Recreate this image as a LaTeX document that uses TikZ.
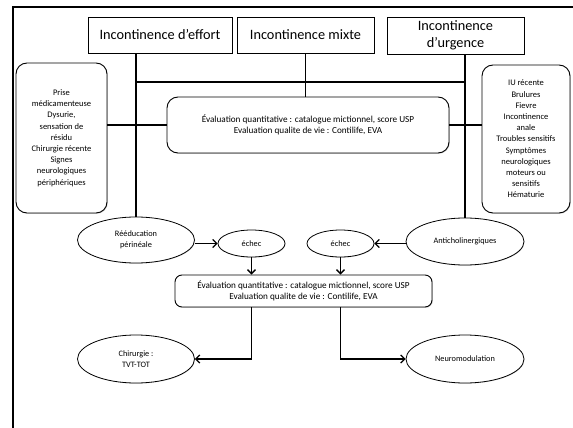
\documentclass[tikz,border=0pt]{standalone}
\usepackage{fontspec}
\setmainfont{Carlito}
\usetikzlibrary{arrows.meta,shapes.geometric,shadows}
\begin{document}
\begin{tikzpicture}[x=1pt,y=-1pt,
  titlebox/.style={draw,line width=0.8pt,font=\fontsize{14.3}{16.5}\selectfont,align=center,inner sep=0pt},
  infobox/.style={draw,line width=0.9pt,rounded corners=11pt,font=\fontsize{8.5}{11.2}\selectfont,align=center,inner sep=0pt,fill=white,
    drop shadow={shadow xshift=0.8pt,shadow yshift=-0.8pt,opacity=0.35}},
  evalbox/.style={infobox,font=\fontsize{9.2}{11}\selectfont},
  oval/.style={draw,ellipse,line width=0.8pt,font=\fontsize{8.3}{11.5}\selectfont,align=center,inner sep=0pt,fill=white,
    drop shadow={shadow xshift=0.6pt,shadow yshift=-0.6pt,opacity=0.3}},
  link/.style={line width=1.3pt},
  arr/.style={line width=1.3pt,-{Straight Barb[length=4pt,width=8pt,line width=1.3pt]}}]
\useasboundingbox (0,0) rectangle (573,428);
% page frame
\draw[line width=2.2pt] (573,7) -- (13,7) -- (13,428);

% the three kinds of incontinence
\node[titlebox,minimum width=144pt,minimum height=36pt] (effort) at (160,35) {Incontinence d’effort};
\node[titlebox,minimum width=137pt,minimum height=36pt] (mixte) at (305.5,35) {Incontinence mixte};
\node[titlebox,minimum width=137pt,minimum height=37pt] (urg) at (455.5,35.5) {Incontinence\\d’urgence};

% warning signs and first evaluation
\node[infobox,minimum width=91pt,minimum height=150pt] (lbox) at (61.5,138)
  {Prise\\médicamenteuse\\Dysurie,\\sensation de\\résidu\\Chirurgie récente\\Signes\\neurologiques\\périphériques};
\node[infobox,minimum width=88pt,minimum height=148pt] (rbox) at (526,139)
  {IU récente\\Brulures\\Fievre\\Incontinence\\anale\\Troubles sensitifs\\Symptômes\\neurologiques\\moteurs ou\\sensitifs\\Hématurie};
\node[evalbox,minimum width=282pt,minimum height=56pt] (mid) at (308,125)
  {Évaluation quantitative : catalogue mictionnel, score USP\\Evaluation qualite de vie : Contilife, EVA};

% treatments
\node[oval,minimum width=117pt,minimum height=46pt] (reed) at (136,240) {Rééducation\\périnéale};
\node[oval,minimum width=67pt,minimum height=27pt] (echecL) at (251.5,243.5) {échec};
\node[oval,minimum width=67pt,minimum height=27pt] (echecR) at (340.5,243.5) {échec};
\node[oval,minimum width=118pt,minimum height=47pt] (anti) at (465,241.5) {Anticholinergiques};

% second evaluation
\node[evalbox,minimum width=257pt,minimum height=32pt,rounded corners=7pt] (bot) at (303.5,291)
  {Évaluation quantitative : catalogue mictionnel, score USP\\Evaluation qualite de vie : Contilife, EVA};

% second-line treatments
\node[oval,minimum width=117pt,minimum height=48pt] (chir) at (136,359) {Chirurgie :\\TVT-TOT};
\node[oval,minimum width=118pt,minimum height=48pt] (neuro) at (465,359) {Neuromodulation};

% bus lines joining the three kinds
\coordinate (busL) at (reed.north |- 0,82);
\coordinate (busR) at (anti.north |- 0,82);
\draw[link] (reed.north |- effort.south) -- (reed.north);
\draw[link] (anti.north |- urg.south) -- (anti.north);
\draw[link] (busL) -- (busR);
\draw[link] (mixte.south) -- (mixte.south |- mid.north);
\draw[link] (lbox.east |- mid.west) -- (mid.west);
\draw[link] (mid.east) -- (rbox.west |- mid.east);

% arrows through the treatments
\draw[arr] (reed.east |- echecL.west) -- (echecL.west);
\draw[arr] (anti.west |- echecR.east) -- (echecR.east);
\draw[arr] (echecL.south) -- (echecL.south |- bot.north);
\draw[arr] (echecR.south) -- (echecR.south |- bot.north);
\draw[arr] (echecL.south |- bot.south) -- (echecL.south |- chir.east) -- (chir.east);
\draw[arr] (echecR.south |- bot.south) -- (echecR.south |- neuro.west) -- (neuro.west);
\end{tikzpicture}
\end{document}
